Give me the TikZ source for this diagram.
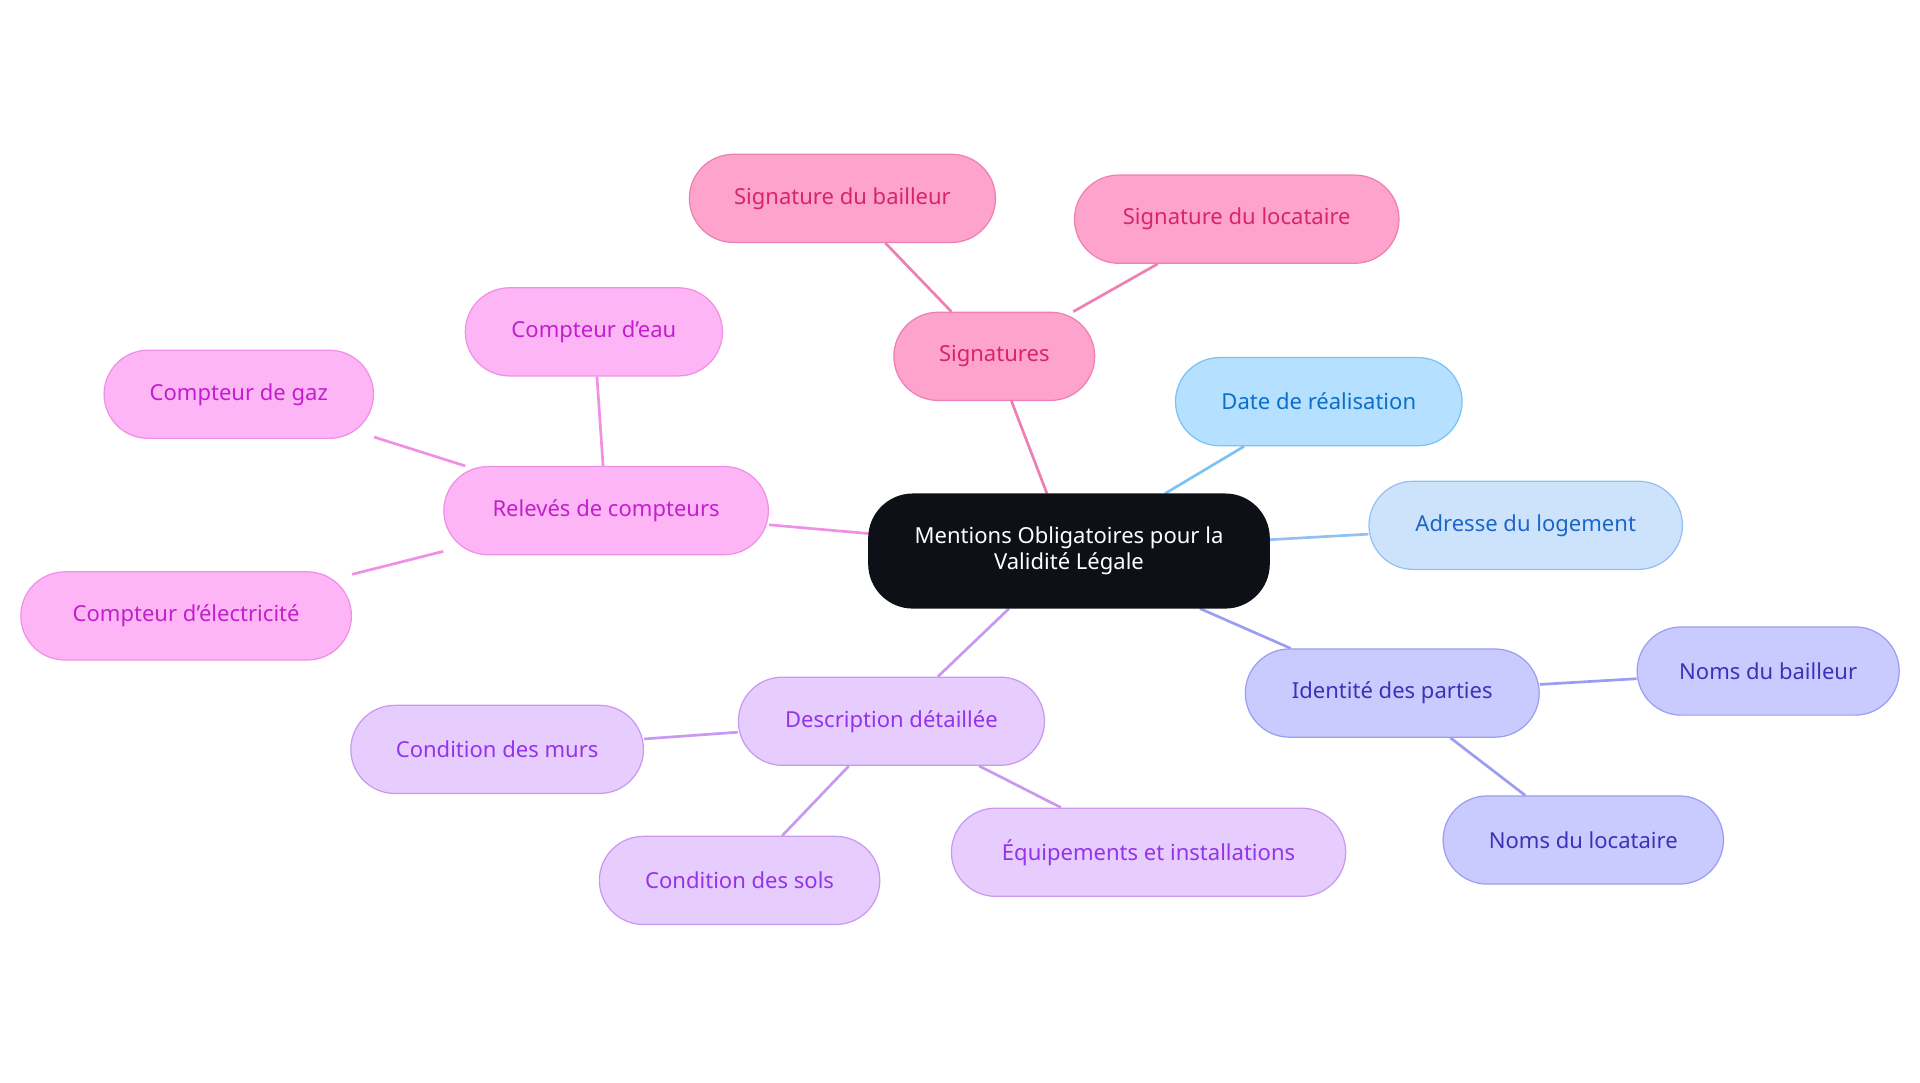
\documentclass[tikz,border=0pt]{standalone}
\usepackage{fontspec}
\setmainfont{Noto Sans}
\usetikzlibrary{backgrounds}
\definecolor{rootfill}{HTML}{0D1117}
\definecolor{sigfill}{HTML}{FEA3CB}\definecolor{sigline}{HTML}{EE7FB3}\definecolor{sigtext}{HTML}{D6246E}
\definecolor{datefill}{HTML}{B5E0FF}\definecolor{dateline}{HTML}{7CC2F2}\definecolor{datetext}{HTML}{0C6FC7}
\definecolor{adrfill}{HTML}{CDE3FC}\definecolor{adrline}{HTML}{93C0F2}\definecolor{adrtext}{HTML}{1B66C9}
\definecolor{idfill}{HTML}{C9CBFE}\definecolor{idline}{HTML}{9B9DF2}\definecolor{idtext}{HTML}{3B32B8}
\definecolor{descfill}{HTML}{E7CCFE}\definecolor{descline}{HTML}{C998F0}\definecolor{desctext}{HTML}{9333EA}
\definecolor{relfill}{HTML}{FEB5F6}\definecolor{relline}{HTML}{F08FE6}\definecolor{reltext}{HTML}{C21FCC}
\tikzset{
  pill/.style = {shape=rectangle,rounded corners=36pt,minimum height=72pt,draw,line width=1pt,
    font=\fontsize{18}{21}\selectfont,inner xsep=0pt},
  branch/.style 2 args = {pill,fill=#1fill,draw=#1line,text=#1text,minimum width=#2},
  edge/.style = {line width=2.2pt,draw=#1line}
}
\begin{document}
\begin{tikzpicture}[x=1pt,y=-1pt]
            \useasboundingbox (0,0) rectangle (1568,884);
            % Root
            \node[pill,fill=rootfill,draw=rootfill,text=white,minimum width=327pt,minimum height=93pt,
              align=center,font=\fontsize{18}{21}\selectfont] (root) at (873,450)
              {Mentions Obligatoires pour la\\Validité Légale};

            % Signatures
            \node[branch={sig}{164pt}] (sig) at (812,291) {Signatures};
            \node[branch={sig}{250pt}] (sigb) at (688,162) {Signature du bailleur};
            \node[branch={sig}{265pt}] (sigl) at (1010,179) {Signature du locataire};

            % Date, adresse
            \node[branch={date}{234pt}] (date) at (1077,328) {Date de réalisation};
            \node[branch={adr}{256pt}] (adr) at (1246,429) {Adresse du logement};

            % Identite
            \node[branch={id}{240pt}] (id) at (1137,566) {Identité des parties};
            \node[branch={id}{214pt}] (idb) at (1444,548) {Noms du bailleur};
            \node[branch={id}{229pt}] (idl) at (1293,686) {Noms du locataire};

            % Description
            \node[branch={desc}{250pt}] (desc) at (728,589) {Description détaillée};
            \node[branch={desc}{239pt}] (murs) at (406,612) {Condition des murs};
            \node[branch={desc}{229pt}] (sols) at (604,719) {Condition des sols};
            \node[branch={desc}{322pt}] (equip) at (938,696) {Équipements et installations};

            % Releves
            \node[branch={rel}{265pt}] (rel) at (495,417) {Relevés de compteurs};
            \node[branch={rel}{210pt}] (eau) at (485,271) {Compteur d'eau};
            \node[branch={rel}{220pt}] (gaz) at (195,322) {Compteur de gaz};
            \node[branch={rel}{270pt}] (elec) at (152,503) {Compteur d'électricité};

            % Edges
            \begin{scope}[on background layer]
            \draw[edge=sig] (root) -- (sig);
            \draw[edge=sig] (sig) -- (sigb);
            \draw[edge=sig] (sig) -- (sigl);
            \draw[edge=date] (root) -- (date);
            \draw[edge=adr] (root) -- (adr);
            \draw[edge=id] (root) -- (id);
            \draw[edge=id] (id) -- (idb);
            \draw[edge=id] (id) -- (idl);
            \draw[edge=desc] (root) -- (desc);
            \draw[edge=desc] (desc) -- (murs);
            \draw[edge=desc] (desc) -- (sols);
            \draw[edge=desc] (desc) -- (equip);
            \draw[edge=rel] (root) -- (rel);
            \draw[edge=rel] (rel) -- (eau);
            \draw[edge=rel] (rel) -- (gaz);
            \draw[edge=rel] (rel) -- (elec);
            \end{scope}
        \end{tikzpicture}
\end{document}
